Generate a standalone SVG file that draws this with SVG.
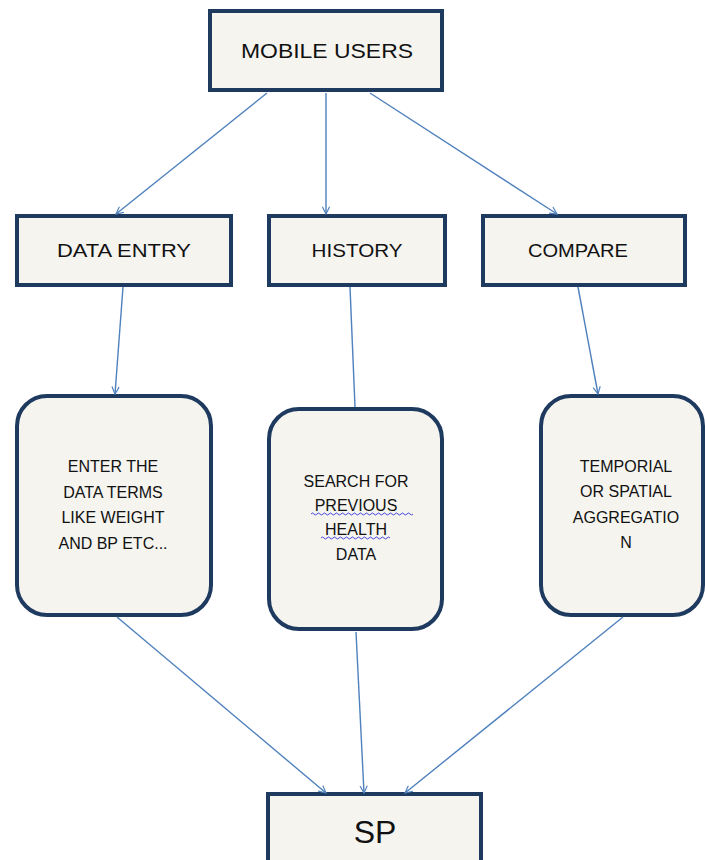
<svg xmlns="http://www.w3.org/2000/svg" width="705" height="860" viewBox="0 0 705 860">
<defs>
<marker id="arr" viewBox="0 0 10 10" refX="9" refY="5" markerWidth="9" markerHeight="9" markerUnits="userSpaceOnUse" orient="auto">
<path d="M1,1 L9,5 L1,9" fill="none" stroke="#4f81bd" stroke-width="1.3"/>
</marker>
<style>
.box{fill:#f5f4ef;stroke:#1f3a5f;stroke-width:4}
.t{font-family:"Liberation Sans",Arial,sans-serif;fill:#111;text-anchor:middle}
.c{fill:none;stroke:#4f81bd;stroke-width:1.4}
.sq{fill:none;stroke:#3333dd;stroke-width:0.9}
</style>
</defs>
<rect width="705" height="860" fill="#ffffff"/>
<g id="mobile-users">
<rect class="box" x="210" y="11" width="232" height="79"/>
<text class="t" x="327" y="58" font-size="21" textLength="172" lengthAdjust="spacingAndGlyphs">MOBILE USERS</text>
</g>
<g id="data-entry">
<rect class="box" x="17" y="216" width="214" height="69"/>
<text class="t" x="124" y="257" font-size="19" textLength="134" lengthAdjust="spacingAndGlyphs">DATA ENTRY</text>
</g>
<g id="history">
<rect class="box" x="269" y="216" width="176" height="69"/>
<text class="t" x="357" y="257" font-size="19" textLength="91" lengthAdjust="spacingAndGlyphs">HISTORY</text>
</g>
<g id="compare">
<rect class="box" x="483" y="216" width="202" height="69"/>
<text class="t" x="578" y="257" font-size="18" textLength="100" lengthAdjust="spacingAndGlyphs">COMPARE</text>
</g>
<g id="enter-data">
<rect class="box" x="17" y="396" width="194" height="219" rx="30"/>
<text class="t" font-size="16"><tspan x="113" y="472">ENTER THE</tspan><tspan x="113" y="498">DATA TERMS</tspan><tspan x="113" y="523">LIKE WEIGHT</tspan><tspan x="113" y="549">AND BP ETC...</tspan></text>
</g>
<g id="search-history">
<rect class="box" x="269" y="409" width="173" height="220" rx="30"/>
<text class="t" font-size="16"><tspan x="356" y="487">SEARCH FOR</tspan><tspan x="356" y="511">PREVIOUS</tspan><tspan x="356" y="535">HEALTH</tspan><tspan x="356" y="560">DATA</tspan></text>
<path class="sq" d="M311,514 q1.5,-2 3,0 t3,0 t3,0 t3,0 t3,0 t3,0 t3,0 t3,0 t3,0 t3,0 t3,0 t3,0 t3,0 t3,0 t3,0 t3,0 t3,0 t3,0 t3,0 t3,0 t3,0 t3,0 t3,0 t3,0 t3,0 t3,0 t3,0 t3,0 t3,0 t3,0 t3,0 t3,0 t3,0 t3,0"/>
<path class="sq" d="M321,538 q1.5,-2 3,0 t3,0 t3,0 t3,0 t3,0 t3,0 t3,0 t3,0 t3,0 t3,0 t3,0 t3,0 t3,0 t3,0 t3,0 t3,0 t3,0 t3,0 t3,0 t3,0 t3,0 t3,0 t3,0"/>
</g>
<g id="aggregation">
<rect class="box" x="541" y="396" width="162" height="219" rx="30"/>
<text class="t" font-size="16"><tspan x="626" y="472">TEMPORIAL</tspan><tspan x="626" y="497">OR SPATIAL</tspan><tspan x="626" y="523">AGGREGATIO</tspan><tspan x="626" y="548">N</tspan></text>
</g>
<g id="sp">
<rect class="box" x="268" y="794" width="213" height="80"/>
<text class="t" x="375" y="843" font-size="32">SP</text>
</g>
<g id="connectors">
<line class="c" x1="267" y1="93" x2="116" y2="214" marker-end="url(#arr)"/>
<line class="c" x1="326" y1="93" x2="326" y2="214" marker-end="url(#arr)"/>
<line class="c" x1="370" y1="93" x2="557" y2="214" marker-end="url(#arr)"/>
<line class="c" x1="123" y1="287" x2="115" y2="394" marker-end="url(#arr)"/>
<line class="c" x1="350" y1="287" x2="355" y2="407"/>
<line class="c" x1="578" y1="287" x2="598" y2="394" marker-end="url(#arr)"/>
<line class="c" x1="117" y1="617" x2="326" y2="793" marker-end="url(#arr)"/>
<line class="c" x1="356" y1="632" x2="364" y2="793" marker-end="url(#arr)"/>
<line class="c" x1="623" y1="617" x2="405" y2="793" marker-end="url(#arr)"/>
</g>
</svg>
